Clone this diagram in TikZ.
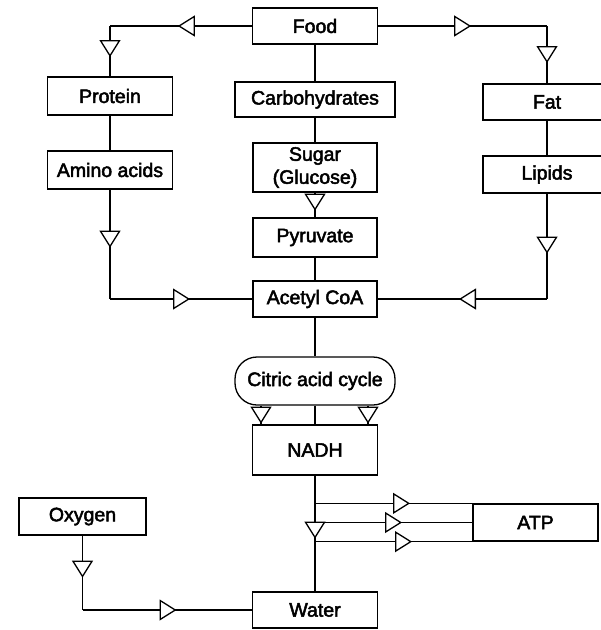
\documentclass[tikz,border=0pt]{standalone}
\usepackage{fontspec}
\setmainfont{Liberation Sans}[BoldFont=Liberation Sans, BoldFeatures={FakeBold=2.5}]
\usetikzlibrary{arrows.meta,decorations.markings,positioning}

\tikzset{
  box/.style={draw, line width=1.3pt, minimum width=#1, inner sep=0pt, align=center},
  box/.default=125pt,
  roundbox/.style={draw, line width=1.3pt, rounded corners=22pt, minimum width=160pt, minimum height=48pt, inner sep=0pt},
  link/.style={line width=1.4pt},
  tri at/.style={postaction={decorate, decoration={markings,
    mark=at position #1 with {\arrow[line width=1.3pt]{Triangle[length=17pt, width=21pt, fill=white]}}}}}
}

\begin{document}
\begin{tikzpicture}[x=1pt, y=-1pt, font=\fontsize{19.5}{23}\selectfont\bfseries]
\useasboundingbox (0,0) rectangle (601,630);

\node[box, minimum height=36pt] (food) at (315,26) {Food};
\node[box, minimum height=38pt] (protein) at (110,96) {Protein};
\node[box=160pt, minimum height=35pt] (carbs) at (315,99.5) {Carbohydrates};
\node[box=128pt, minimum height=36pt] (fat) at (547,102) {Fat};
\node[box, minimum height=38pt] (amino) at (110,170) {Amino acids};
\node[box=124pt, minimum height=49pt] (sugar) at (315,167.5) {Sugar\\(Glucose)};
\node[box=128pt, minimum height=37pt] (lipids) at (547,174.5) {Lipids};
\node[box=124pt, minimum height=39pt] (pyruvate) at (315,237.5) {Pyruvate};
\node[box=124pt, minimum height=36pt] (acetyl) at (315,299) {Acetyl CoA};
\node[roundbox] (citric) at (315,381) {Citric acid cycle};
\node[box, minimum height=50pt] (nadh) at (315,450) {NADH};
\node[box=127pt, minimum height=37pt] (oxygen) at (82.5,516.5) {Oxygen};
\node[box, minimum height=37pt] (atp) at (535.5,522.5) {ATP};
\node[box, minimum height=36pt] (water) at (315,610) {Water};

\coordinate (pc) at (protein.north |- food.west);
\coordinate (fc) at (fat.north |- food.east);
\coordinate (ac) at (amino.south |- acetyl.west);
\coordinate (lc) at (lipids.south |- acetyl.east);
\coordinate (oc) at (oxygen.south |- water.west);

\draw[link, tri at=74pt] (food.west) -- (pc);
\draw[link, tri at=31pt] (pc) -- (protein.north);
\draw[link, tri at=93pt] (food.east) -- (fc);
\draw[link, tri at=37pt] (fc) -- (fat.north);
\draw[link] (food) -- (carbs);
\draw[link] (carbs) -- (sugar);
\draw[link, tri at=18pt] (sugar) -- (pyruvate);
\draw[link] (pyruvate) -- (acetyl);
\draw[link] (protein) -- (amino);
\draw[link, tri at=58pt] (amino.south) -- (ac);
\draw[link, tri at=80pt] (ac) -- (acetyl.west);
\draw[link] (fat) -- (lipids);
\draw[link, tri at=60pt] (lipids.south) -- (lc);
\draw[link, tri at=88pt] (lc) -- (acetyl.east);
\draw[link] (acetyl) -- (citric);
\draw[link] (citric) -- (nadh);
\draw[link, tri at=18pt] ([xshift=-54pt]citric.south) -- ([xshift=-54pt]nadh.north);
\draw[link, tri at=18pt] ([xshift=53pt]citric.south) -- ([xshift=53pt]nadh.north);
\draw[link, tri at=63pt] (nadh) -- (water);
\draw[link, tri at=95pt] (nadh.south |- atp.north west) -- (atp.north west);
\draw[link, tri at=87pt] (nadh.south |- atp.west) -- (atp.west);
\draw[link, tri at=97pt] (nadh.south |- atp.south west) -- (atp.south west);
\draw[link, tri at=42pt] (oxygen.south) -- (oc);
\draw[link, tri at=94pt] (oc) -- (water.west);
\end{tikzpicture}
\end{document}
